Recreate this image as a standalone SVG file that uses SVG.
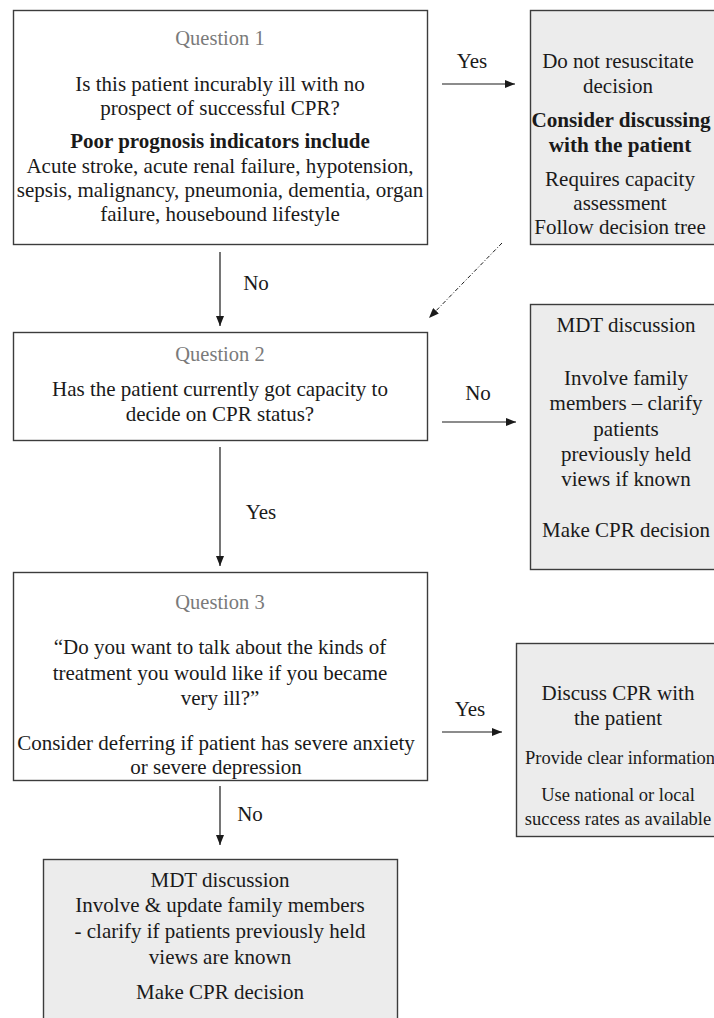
<svg xmlns="http://www.w3.org/2000/svg" width="714" height="1018" viewBox="0 0 714 1018">
<defs>
<style>
.box{fill:#ffffff;stroke:#3c3c3c;stroke-width:1.4}
.gbox{fill:#ececec;stroke:#3c3c3c;stroke-width:1.4}
text{font-family:"Liberation Serif","Times New Roman",serif;font-size:21px;fill:#1a1a1a;text-anchor:middle}
.q{fill:#7a7a7a;font-size:20.5px}
.b{font-weight:bold}
.bw{font-weight:bold;font-size:21.2px}
.s{font-size:18.5px}
.lbl{font-size:21px}
.ln{stroke:#1a1a1a;stroke-width:1.2;fill:none}
.dot{stroke:#1a1a1a;stroke-width:1;fill:none;stroke-dasharray:4 2 1 2}
</style>
<marker id="ah" viewBox="0 0 10 8" refX="10" refY="4" markerWidth="10" markerHeight="8" markerUnits="userSpaceOnUse" orient="auto">
<path d="M0,0 L10,4 L0,8 Z" fill="#1a1a1a"/>
</marker>
</defs>
<rect width="714" height="1018" fill="#ffffff"/>

<g id="q1">
<rect class="box" x="13.5" y="10.5" width="414" height="234"/>
<text class="q" x="220" y="45">Question 1</text>
<text x="220" y="91">Is this patient incurably ill with no</text>
<text x="220" y="115">prospect of successful CPR?</text>
<text class="b" x="220" y="148">Poor prognosis indicators include</text>
<text x="220" y="173">Acute stroke, acute renal failure, hypotension,</text>
<text x="220" y="197">sepsis, malignancy, pneumonia, dementia, organ</text>
<text x="220" y="221">failure, housebound lifestyle</text>
</g>

<g id="dnr">
<rect class="gbox" x="530.5" y="10.5" width="200" height="234"/>
<text x="618" y="68">Do not resuscitate</text>
<text x="618" y="93">decision</text>
<text class="bw" x="621" y="127">Consider discussing</text>
<text class="bw" x="620" y="152">with the patient</text>
<text x="620" y="186">Requires capacity</text>
<text x="620" y="210">assessment</text>
<text x="620" y="234">Follow decision tree</text>
</g>

<g id="q2">
<rect class="box" x="13.5" y="332.5" width="414" height="108"/>
<text class="q" x="220" y="361">Question 2</text>
<text x="220" y="396">Has the patient currently got capacity to</text>
<text x="220" y="421">decide on CPR status?</text>
</g>

<g id="mdt1">
<rect class="gbox" x="530.5" y="304.5" width="200" height="265"/>
<text x="626" y="332">MDT discussion</text>
<text x="626" y="385">Involve family</text>
<text x="626" y="410">members – clarify</text>
<text x="626" y="436">patients</text>
<text x="626" y="461">previously held</text>
<text x="626" y="486">views if known</text>
<text x="626" y="537">Make CPR decision</text>
</g>

<g id="q3">
<rect class="box" x="13.5" y="572.5" width="414" height="208"/>
<text class="q" x="220" y="609">Question 3</text>
<text x="220" y="654">“Do you want to talk about the kinds of</text>
<text x="220" y="680">treatment you would like if you became</text>
<text x="220" y="705">very ill?”</text>
<text x="216" y="750">Consider deferring if patient has severe anxiety</text>
<text x="216" y="774">or severe depression</text>
</g>

<g id="discuss">
<rect class="gbox" x="516.5" y="643.5" width="210" height="193"/>
<text x="618" y="700">Discuss CPR with</text>
<text x="618" y="725">the patient</text>
<text class="s" x="620" y="764">Provide clear information</text>
<text class="s" x="618" y="801">Use national or local</text>
<text class="s" x="618" y="825">success rates as available</text>
</g>

<g id="mdt2">
<rect class="gbox" x="43.5" y="859.5" width="354" height="180"/>
<text x="220" y="887">MDT discussion</text>
<text x="220" y="912">Involve &amp; update family members</text>
<text x="220" y="938">- clarify if patients previously held</text>
<text x="220" y="964">views are known</text>
<text x="220" y="999">Make CPR decision</text>
</g>

<g id="connectors">
<line class="ln" x1="442" y1="84" x2="515" y2="84" marker-end="url(#ah)"/>
<text class="lbl" x="472" y="68">Yes</text>
<line class="dot" x1="502" y1="243" x2="429" y2="318" marker-end="url(#ah)"/>
<line class="ln" x1="220" y1="252" x2="220" y2="326" marker-end="url(#ah)"/>
<text class="lbl" x="256" y="290">No</text>
<line class="ln" x1="442" y1="422" x2="516" y2="422" marker-end="url(#ah)"/>
<text class="lbl" x="478" y="400">No</text>
<line class="ln" x1="220" y1="447" x2="220" y2="566" marker-end="url(#ah)"/>
<text class="lbl" x="261" y="519">Yes</text>
<line class="ln" x1="442" y1="732" x2="502" y2="732" marker-end="url(#ah)"/>
<text class="lbl" x="470" y="716">Yes</text>
<line class="ln" x1="220" y1="786" x2="220" y2="845" marker-end="url(#ah)"/>
<text class="lbl" x="250" y="821">No</text>
</g>
</svg>
